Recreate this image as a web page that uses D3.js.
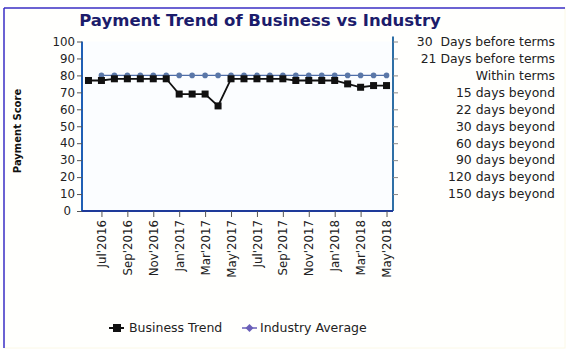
<!DOCTYPE html>
<html><head><meta charset="utf-8">
<script src="https://cdn.jsdelivr.net/npm/d3@7/dist/d3.min.js"></script>
<style>body{margin:0;background:#fff;font-family:"DejaVu Sans",sans-serif}</style>
</head><body><svg id="c" width="567" height="352"></svg>
<script>
const months = ["Jun'2016","Jul'2016","Aug'2016","Sep'2016","Oct'2016","Nov'2016","Dec'2016",
"Jan'2017","Feb'2017","Mar'2017","Apr'2017","May'2017","Jun'2017","Jul'2017","Aug'2017","Sep'2017",
"Oct'2017","Nov'2017","Dec'2017","Jan'2018","Feb'2018","Mar'2018","Apr'2018","May'2018"];
const businessTrend = [77,77,78,78,78,78,78,69,69,69,62,78,78,78,78,78,77,77,77,77,75,73,74,74];
const industryAverage = [null,80,80,80,80,80,80,80,80,80,80,80,80,80,80,80,80,80,80,80,80,80,80,80];
const xTickLabels = ["Jul'2016","Sep'2016","Nov'2016","Jan'2017","Mar'2017","May'2017","Jul'2017","Sep'2017","Nov'2017","Jan'2018","Mar'2018","May'2018"];
const yTicks = [0,10,20,30,40,50,60,70,80,90,100];
const rightTicks = [10,20,30,40,50,60,70,80,90,100];
const rightLabels = ["150 days beyond","120 days beyond","90 days beyond","60 days beyond","30 days beyond","22 days beyond","15 days beyond","Within terms","21 Days before terms","30\u00a0 Days before terms"];
const seriesNames = ["Business Trend","Industry Average"];

const svg = d3.select("#c");
const L=82,R=393,T=41.5,B=211;
// frame
svg.append("rect").attr("x",4).attr("y",8).attr("width",561).attr("height",340).attr("fill","#fffffd").attr("stroke","#fbf8e6");
svg.append("line").attr("x1",4).attr("x2",4).attr("y1",8).attr("y2",348).attr("stroke","#3a2fc8").attr("stroke-width",1.5);
svg.append("line").attr("x1",4).attr("x2",565).attr("y1",8).attr("y2",8).attr("stroke","#3a2fc8").attr("stroke-width",1.5);
svg.append("rect").attr("x",L).attr("y",T).attr("width",R-L).attr("height",B-T).attr("fill","#fbfdff");

const x = d3.scalePoint().domain(months).range([L,R]).padding(0.5);
const y = d3.scaleLinear().domain([0,100]).range([B,T]);

svg.append("text").attr("x",260).attr("y",26).attr("text-anchor","middle")
  .attr("font-size",16.5).attr("font-weight","bold").attr("fill","#1c1c6b").text("Payment Trend of Business vs Industry");

// left axis
const gl = svg.append("g").attr("transform",`translate(${L},0)`)
  .call(d3.axisLeft(y).tickValues(yTicks).tickSize(5).tickPadding(2));
gl.select(".domain").attr("stroke","#1f5fb5").attr("stroke-width",2).attr("d",`M0,${T}V${B}`);
gl.selectAll(".tick line").attr("stroke","#555");
gl.selectAll(".tick text").attr("font-size",11.8).attr("fill","#222").attr("font-family","DejaVu Sans");
gl.selectAll(".tick").filter(d=>d===0).select("text").attr("dx",-4);

// right axis
const yr = d3.scaleLinear().domain([0,100]).range([B,T]);
const gr = svg.append("g").attr("transform",`translate(${R},0)`)
  .call(d3.axisRight(yr).tickValues(rightTicks).tickSize(5).tickFormat(()=>""));
gr.select(".domain").attr("stroke","#2e6fa6").attr("stroke-width",2).attr("d",`M0,${T-5}V${B}`);
gr.selectAll(".tick line").attr("stroke","#888");
svg.append("g").selectAll("text").data(rightTicks).join("text")
  .attr("x",555).attr("y",d=>yr(d)).attr("dy","0.35em").attr("text-anchor","end")
  .attr("font-size",12.4).attr("fill","#222").text((d,i)=>rightLabels[i]);

// bottom axis
const gb = svg.append("g").attr("transform",`translate(0,${B})`)
  .call(d3.axisBottom(x).tickValues(xTickLabels).tickSize(6).tickPadding(3));
gb.select(".domain").attr("stroke","#1e3a99").attr("stroke-width",2).attr("d",`M${L},0H${R}`);
gb.selectAll(".tick line").attr("stroke","#555");
gb.selectAll(".tick text").attr("font-size",11.8).attr("fill","#222").attr("font-family","DejaVu Sans")
  .attr("transform","rotate(-90)").attr("text-anchor","end").attr("x",-9).attr("y",0).attr("dy","0.35em");

// industry line
const ind = months.map((m,i)=>({m,v:industryAverage[i]})).filter(d=>d.v!==null);
svg.append("path").datum(ind).attr("fill","none").attr("stroke","#4f6ea8").attr("stroke-width",1.3)
  .attr("d",d3.line().x(d=>x(d.m)).y(d=>y(d.v)));
svg.append("g").selectAll("circle").data(ind).join("circle")
  .attr("cx",d=>x(d.m)).attr("cy",d=>y(d.v)).attr("r",2.8).attr("fill","#5a77a8");

// business line
const bus = months.map((m,i)=>({m,v:businessTrend[i]}));
svg.append("path").datum(bus).attr("fill","none").attr("stroke","#111").attr("stroke-width",1.8)
  .attr("d",d3.line().x(d=>x(d.m)).y(d=>y(d.v)));
svg.append("g").selectAll("rect").data(bus).join("rect")
  .attr("x",d=>x(d.m)-3.5).attr("y",d=>y(d.v)-3.5).attr("width",7).attr("height",7).attr("fill","#111");

// legend
const lg = svg.append("g");
lg.append("line").attr("x1",109).attr("x2",124).attr("y1",328).attr("y2",328).attr("stroke","#111").attr("stroke-width",2);
lg.append("rect").attr("x",113).attr("y",324).attr("width",8).attr("height",8).attr("fill","#111");
lg.append("text").attr("x",129).attr("y",328).attr("dy","0.35em").attr("font-size",12.5).attr("fill","#222").text(seriesNames[0]);
lg.append("line").attr("x1",242).attr("x2",257).attr("y1",328).attr("y2",328).attr("stroke","#6a5fb8").attr("stroke-width",1.5);
lg.append("path").attr("d","M249.5,324L253.5,328L249.5,332L245.5,328Z").attr("fill","#6a5fb8");
lg.append("text").attr("x",260).attr("y",328).attr("dy","0.35em").attr("font-size",12.5).attr("fill","#222").text(seriesNames[1]);

// y title
svg.append("text").attr("transform","translate(21,131) rotate(-90)").attr("text-anchor","middle")
  .attr("font-size",10).attr("font-weight","bold").attr("fill","#111").text("Payment Score");
</script></body></html>
